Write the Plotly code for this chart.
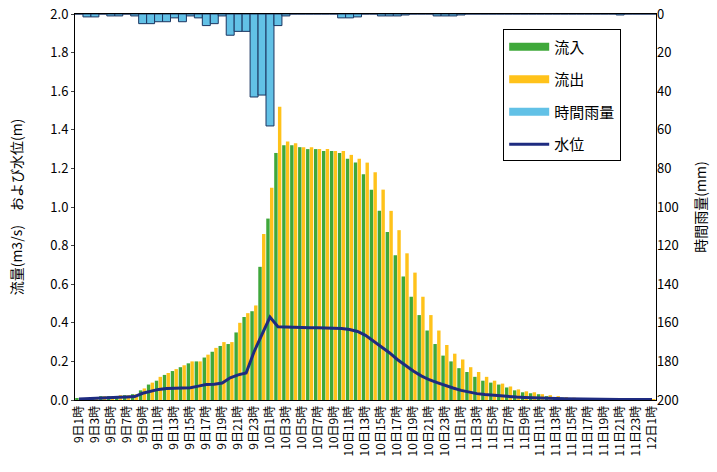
import plotly.graph_objects as go

categories = [
    "9日1時", "9日2時", "9日3時", "9日4時", "9日5時", "9日6時", "9日7時", "9日8時",
    "9日9時", "9日10時", "9日11時", "9日12時", "9日13時", "9日14時", "9日15時", "9日16時",
    "9日17時", "9日18時", "9日19時", "9日20時", "9日21時", "9日22時", "9日23時", "9日24時",
    "10日1時", "10日2時", "10日3時", "10日4時", "10日5時", "10日6時", "10日7時", "10日8時",
    "10日9時", "10日10時", "10日11時", "10日12時", "10日13時", "10日14時", "10日15時", "10日16時",
    "10日17時", "10日18時", "10日19時", "10日20時", "10日21時", "10日22時", "10日23時", "10日24時",
    "11日1時", "11日2時", "11日3時", "11日4時", "11日5時", "11日6時", "11日7時", "11日8時",
    "11日9時", "11日10時", "11日11時", "11日12時", "11日13時", "11日14時", "11日15時", "11日16時",
    "11日17時", "11日18時", "11日19時", "11日20時", "11日21時", "11日22時", "11日23時", "11日24時",
    "12日1時",
]

tick_labels = categories[::2]

inflow = [
    0.01, 0.01, 0.015, 0.02, 0.02, 0.02, 0.025, 0.03,
    0.05, 0.08, 0.10, 0.13, 0.15, 0.17, 0.19, 0.20,
    0.22, 0.25, 0.28, 0.29, 0.35, 0.43, 0.46, 0.69,
    0.94, 1.28, 1.32, 1.32, 1.31, 1.30, 1.30, 1.29,
    1.29, 1.28, 1.25, 1.23, 1.17, 1.09, 0.98, 0.87,
    0.75, 0.64, 0.535, 0.44, 0.36, 0.29, 0.23, 0.20,
    0.165, 0.145, 0.12, 0.10, 0.09, 0.08, 0.065, 0.05,
    0.04, 0.035, 0.03, 0.02, 0.015, 0.012, 0.01, 0.008,
    0.006, 0.005, 0.005, 0.004, 0.004, 0.003, 0.003, 0.003,
    0.002,
]

outflow = [
    0.01, 0.01, 0.015, 0.02, 0.02, 0.025, 0.025, 0.03,
    0.06, 0.09, 0.12, 0.14, 0.16, 0.18, 0.20, 0.20,
    0.235, 0.27, 0.30, 0.30, 0.40, 0.45, 0.49, 0.86,
    1.10, 1.52, 1.34, 1.33, 1.31, 1.31, 1.30, 1.30,
    1.29, 1.29, 1.27, 1.25, 1.23, 1.18, 1.09, 0.98,
    0.88, 0.76, 0.66, 0.535, 0.44, 0.36, 0.285, 0.24,
    0.21, 0.17, 0.145, 0.12, 0.10, 0.085, 0.07, 0.055,
    0.045, 0.04, 0.03, 0.025, 0.02, 0.015, 0.012, 0.01,
    0.008, 0.006, 0.005, 0.005, 0.004, 0.004, 0.003, 0.003,
    0.003,
]

rainfall = [
    0, 1.5, 1.5, 0, 1, 1, 0, 1,
    5, 5, 4, 4, 2, 4, 1, 2,
    6, 5, 1, 11, 9, 9, 43, 42,
    58, 6, 1, 0, 0, 0, 0, 0,
    0, 2, 2, 1.5, 0, 0, 1, 1,
    1, 0.5, 0, 0, 0, 1, 1, 1,
    0.5, 0, 0, 0, 0, 0, 0, 0,
    0, 0, 0, 0, 0, 0, 0, 0,
    0, 0, 0, 0, 0.5, 0, 0, 0,
    0,
]

water_level = [
    0.005, 0.006, 0.008, 0.01, 0.012, 0.014, 0.016, 0.018,
    0.035, 0.045, 0.055, 0.06, 0.062, 0.063, 0.064, 0.072,
    0.08, 0.082, 0.088, 0.115, 0.13, 0.14, 0.25, 0.34,
    0.43, 0.38, 0.378, 0.377, 0.376, 0.375, 0.374, 0.373,
    0.372, 0.37, 0.365, 0.355, 0.335, 0.305, 0.275, 0.245,
    0.21, 0.18, 0.15, 0.125, 0.105, 0.09, 0.075, 0.062,
    0.05, 0.04, 0.033, 0.028, 0.024, 0.02, 0.017, 0.015,
    0.013, 0.011, 0.01, 0.009, 0.008, 0.007, 0.006, 0.005,
    0.005, 0.004, 0.004, 0.004, 0.003, 0.003, 0.003, 0.003,
    0.003,
]

FONT = "Noto Sans CJK JP, Noto Sans, sans-serif"
GREEN = "#3FA83A"
YELLOW = "#FFC21A"
BLUE = "#62C1E6"
NAVY = "#1E2B80"

fig = go.Figure()
fig.add_trace(go.Bar(
    x=categories, y=inflow, name="流入", yaxis="y",
    marker=dict(color=GREEN, line=dict(width=0)),
    offset=-0.47, width=0.43, showlegend=False,
))
fig.add_trace(go.Bar(
    x=categories, y=outflow, name="流出", yaxis="y",
    marker=dict(color=YELLOW, line=dict(width=0)),
    offset=0.0, width=0.43, showlegend=False,
))
fig.add_trace(go.Bar(
    x=categories, y=rainfall, name="時間雨量", yaxis="y2",
    marker=dict(color=BLUE, line=dict(color="#1B3560", width=1)),
    offset=-0.5, width=1.0, showlegend=False,
))
fig.add_trace(go.Scatter(
    x=categories, y=water_level, name="水位", yaxis="y", mode="lines",
    line=dict(color=NAVY, width=3), showlegend=False,
))

# legend swatches (wide rectangles like the original)
for nm, col, grp in [("流入", GREEN, "a"), ("流出", YELLOW, "b"), ("時間雨量", BLUE, "c")]:
    fig.add_trace(go.Scatter(
        x=[None], y=[None], name=nm, mode="lines",
        line=dict(color=col, width=8), legendgroup=grp, showlegend=True,
    ))
fig.add_trace(go.Scatter(
    x=[None], y=[None], name="水位", mode="lines",
    line=dict(color=NAVY, width=3), legendgroup="d", showlegend=True,
))

fig.update_layout(
    width=717, height=472,
    margin=dict(l=75, r=61, t=14, b=72, autoexpand=False),
    paper_bgcolor="white", plot_bgcolor="white",
    font=dict(family=FONT, color="black", size=13),
    barmode="overlay",
    showlegend=True,
    legend=dict(
        x=0.737, y=0.96, xanchor="left", yanchor="top",
        bordercolor="black", borderwidth=1, bgcolor="white",
        font=dict(size=15, family=FONT),
        traceorder="grouped", tracegroupgap=10,
        itemwidth=40,
    ),
    xaxis=dict(
        type="category",
        tickmode="array", tickvals=tick_labels, ticktext=tick_labels,
        tickangle=-90, tickfont=dict(size=12, family=FONT),
        showline=True, linecolor="black", linewidth=1, mirror=True,
        showgrid=False, ticks="", range=[-0.5, 72.5], automargin=False,
    ),
    yaxis=dict(
        range=[0, 2.0], tickmode="array",
        tickvals=[0, 0.2, 0.4, 0.6, 0.8, 1.0, 1.2, 1.4, 1.6, 1.8, 2.0],
        ticktext=["0.0", "0.2", "0.4", "0.6", "0.8", "1.0", "1.2", "1.4", "1.6", "1.8", "2.0"],
        tickfont=dict(size=13, family=FONT),
        showline=True, linecolor="black", linewidth=1, mirror=True,
        showgrid=False, zeroline=False, ticks="outside", ticklen=3,
        automargin=False,
        title=dict(text="流量(m3/s)　および水位(m)", font=dict(size=14, family=FONT), standoff=24),
    ),
    yaxis2=dict(
        overlaying="y", side="right", range=[200, 0],
        tickmode="array", tickvals=[0, 20, 40, 60, 80, 100, 120, 140, 160, 180, 200],
        tickfont=dict(size=13, family=FONT),
        showgrid=False, zeroline=False, showline=False, ticks="",
        automargin=False,
        title=dict(text="時間雨量(mm)", font=dict(size=14, family=FONT), standoff=18),
    ),
)

fig.write_html("out.html", config={"displayModeBar": False},
               post_script="document.body.style.margin='0';")
